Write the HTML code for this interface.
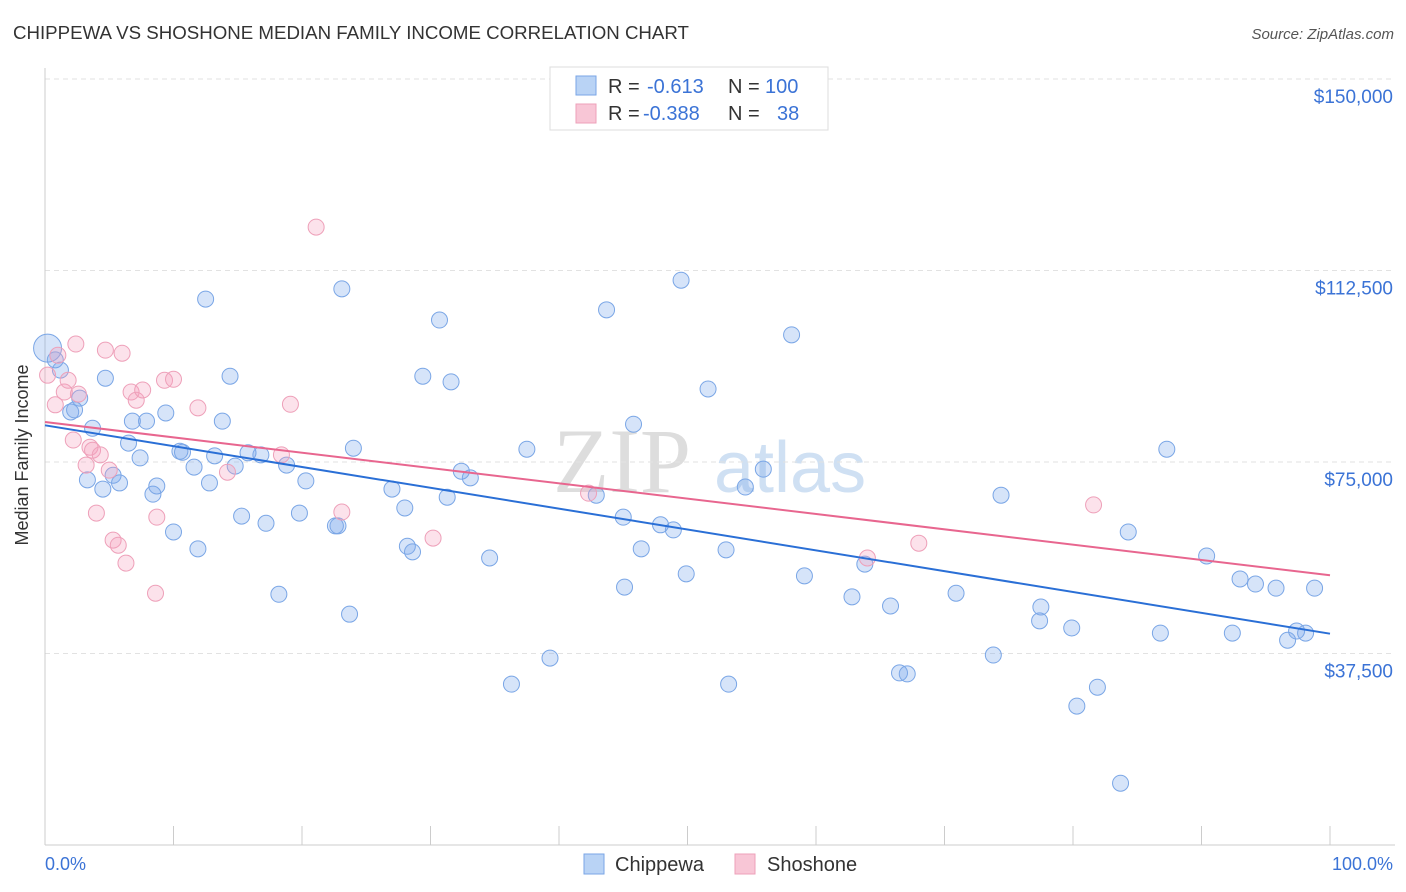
<!DOCTYPE html>
<html><head><meta charset="utf-8">
<style>
body{margin:0;background:#fff;font-family:"Liberation Sans",sans-serif;}
svg{display:block}
</style></head>
<body>
<svg id="chart" width="1406" height="892">
<text x="13" y="39" font-size="18.7" fill="#333">CHIPPEWA VS SHOSHONE MEDIAN FAMILY INCOME CORRELATION CHART</text>
<text x="1394" y="39" font-size="15" fill="#555" font-style="italic" text-anchor="end">Source: ZipAtlas.com</text>
<g>
<text x="553" y="492" font-size="92" fill="#ddd" font-family="Liberation Serif,serif">ZIP</text>
<text x="714" y="492" font-size="72" fill="#cfe0f3">atlas</text>
</g>
<g id="grid"></g>
<g id="axes"></g>
<g id="pts"></g>
<g id="lines"></g>
<text x="28" y="455" font-size="18" fill="#333" text-anchor="middle" transform="rotate(-90 28 455)">Median Family Income</text>
<text x="45" y="870" font-size="18" fill="#3b73d6">0.0%</text>
<text x="1393" y="870" font-size="18" fill="#3b73d6" text-anchor="end">100.0%</text>
<g>
<rect x="550" y="67" width="278" height="63" fill="#fff" stroke="#ddd"/>
<rect x="576" y="76" width="20" height="19" fill="#b9d3f5" stroke="#7aa6e6"/>
<rect x="576" y="104" width="20" height="19" fill="#f8c6d6" stroke="#eea0b9"/>
<text y="93" font-size="20" fill="#333"><tspan x="608">R =</tspan><tspan x="647" fill="#3b73d6">-0.613</tspan><tspan x="728">N =</tspan><tspan x="765" fill="#3b73d6">100</tspan></text>
<text y="120" font-size="20" fill="#333"><tspan x="608">R =</tspan><tspan x="643" fill="#3b73d6">-0.388</tspan><tspan x="728">N =</tspan><tspan x="777" fill="#3b73d6">38</tspan></text>
</g>
<g>
<rect x="584" y="854" width="20" height="20" fill="#b9d3f5" stroke="#7aa6e6"/>
<text x="615" y="871" font-size="20" fill="#333">Chippewa</text>
<rect x="735" y="854" width="20" height="20" fill="#f8c6d6" stroke="#eea0b9"/>
<text x="767" y="871" font-size="20" fill="#333">Shoshone</text>
</g>
</svg>
<script>
const yTicks=[37500,75000,112500,150000];
const yTickLabels=["$37,500","$75,000","$112,500","$150,000"];
const xTicks=[0,10,20,30,40,50,60,70,80,90,100];
const blueX=[0.2,0.8,1.2,2.0,2.3,2.7,3.7,3.3,4.5,4.7,5.3,5.8,6.5,6.8,7.4,7.9,8.4,8.7,9.4,10.0,10.5,10.7,11.6,11.9,12.5,12.8,13.2,13.8,14.4,14.8,15.3,15.8,16.8,17.2,18.2,18.8,19.8,20.3,22.6,22.8,23.1,23.7,24.0,27.0,28.0,28.2,28.6,29.4,30.7,31.3,31.6,32.4,33.1,34.6,36.3,37.5,39.3,42.9,43.7,45.0,45.1,45.8,46.4,47.9,48.9,49.5,49.9,51.6,53.0,53.2,54.5,55.9,58.1,59.1,62.8,63.8,65.8,66.5,67.1,70.9,73.8,74.4,77.4,77.5,79.9,80.3,81.9,83.7,84.3,86.8,87.3,90.4,92.4,93.0,94.2,95.8,96.7,97.4,98.1,98.8];
const blueY=[97.3,95.0,93.0,84.8,85.2,87.5,81.6,71.5,69.7,91.4,72.4,70.9,78.7,83.0,75.8,83.0,68.7,70.3,84.6,61.3,77.1,76.9,74.0,58.0,106.9,70.9,76.2,83.0,91.8,74.2,64.4,76.8,76.4,63.0,49.1,74.4,65.0,71.3,62.5,62.5,108.9,45.2,77.7,69.7,66.0,58.5,57.4,91.8,102.8,68.1,90.7,73.2,71.9,56.2,31.5,77.5,36.6,68.5,104.8,64.2,50.5,82.4,58.0,62.7,61.7,110.6,53.1,89.3,57.8,31.5,70.1,73.6,99.9,52.7,48.6,55.0,46.8,33.7,33.5,49.3,37.2,68.5,43.9,46.6,42.5,27.2,30.9,12.1,61.3,41.5,77.5,56.6,41.5,52.1,51.1,50.3,40.1,41.9,41.5,50.3];
const pinkX=[0.2,0.8,1.0,1.5,1.8,2.2,2.4,2.6,3.2,3.5,3.7,4.0,4.3,4.7,5.0,5.3,5.7,6.0,6.3,6.7,7.1,7.6,8.7,8.6,9.3,10.0,11.9,14.2,18.4,19.1,21.1,23.1,30.2,42.3,64.0,68.0,81.6];
const pinkY=[92.0,86.2,95.9,88.7,91.0,79.3,98.1,88.3,74.4,77.9,77.3,65.0,76.4,96.9,73.4,59.7,58.7,96.3,55.2,88.7,87.1,89.1,64.2,49.3,91.0,91.2,85.6,73.0,76.4,86.3,121.0,65.2,60.1,68.9,56.2,59.1,66.6];
const NS="http://www.w3.org/2000/svg";
const X0=45,X1=1330,Y0=845,YTOP=79;
function sx(p){return X0+(X1-X0)*p/100;}
function sy(v){return Y0-(Y0-YTOP)*v/150000;}
function mk(t,a,p){const e=document.createElementNS(NS,t);for(const k in a)e.setAttribute(k,a[k]);p.appendChild(e);return e;}
const grid=document.getElementById('grid'),axes=document.getElementById('axes');
yTicks.forEach((v,i)=>{
 const l=mk('line',{x1:45,x2:1395,y1:sy(v),y2:sy(v),stroke:'#e2e2e2','stroke-dasharray':'5,4'},grid);
 
 
 const t=mk('text',{x:1393,y:sy(v)+24,'font-size':19,fill:'#3b73d6','text-anchor':'end'},axes);
 t.textContent=yTickLabels[i];
 
 
});
const ax=mk('line',{x1:45,x2:45,y1:68,y2:845,stroke:'#ccc'},axes);


const bx=mk('line',{x1:45,x2:1395,y1:845,y2:845,stroke:'#ccc'},axes);


xTicks.forEach(p=>{
 const t=mk('line',{x1:sx(p),x2:sx(p),y1:826,y2:845,stroke:'#ccc'},axes);
 
 
});
const pts=document.getElementById('pts');
function drawPts(xs,ys,fill,stroke,name){
 xs.forEach((x,i)=>{
  const c=mk('circle',{cx:sx(x),cy:sy(ys[i]*1000),r:(name==='chippewa-point'&&i===0)?14:8,fill:fill,stroke:stroke,'stroke-width':1},pts);
  
  
 });
}
drawPts(blueX,blueY,'rgba(120,165,235,0.3)','#7aa6e6','chippewa-point');
drawPts(pinkX,pinkY,'rgba(245,160,190,0.3)','#eea0b9','shoshone-point');
function fit(xs,ys){const n=xs.length;let mx=0,my=0;xs.forEach((x,i)=>{mx+=x;my+=ys[i];});mx/=n;my/=n;let sxy=0,sxx=0;xs.forEach((x,i)=>{sxy+=(x-mx)*(ys[i]-my);sxx+=(x-mx)*(x-mx);});const b=sxy/sxx;return [my-b*mx,b];}
const lines=document.getElementById('lines');
[[blueX,blueY,'#2a6fd6','chippewa-trendline'],[pinkX,pinkY,'#e8668f','shoshone-trendline']].forEach(s=>{
 const [a,b]=fit(s[0],s[1]);
 const l=mk('line',{x1:sx(0),y1:sy(a*1000),x2:sx(100),y2:sy((a+b*100)*1000),stroke:s[2],'stroke-width':2},lines);
 
 
});
</script>
</body></html>
